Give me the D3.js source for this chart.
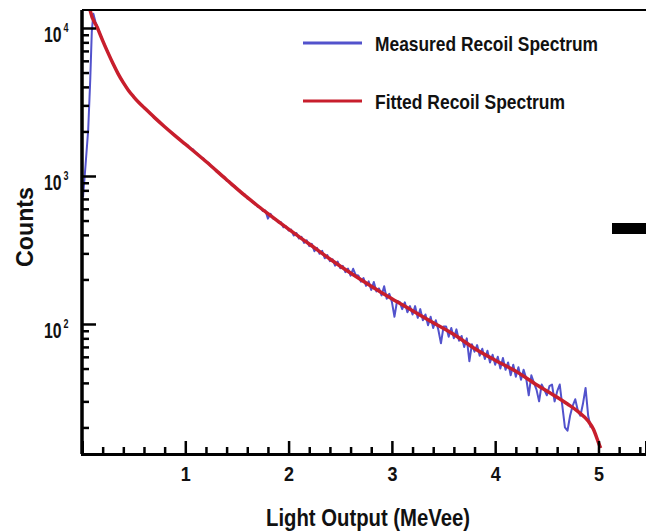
<!DOCTYPE html>
<html>
<head>
<meta charset="utf-8">
<script src="https://cdn.jsdelivr.net/npm/d3@7"></script>
<style>
  html, body { margin: 0; padding: 0; background: #fff; }
  svg { display: block; }
  text { font-family: "Liberation Sans", Arial, sans-serif; font-weight: bold; fill: #111; }
</style>
</head>
<body>
<svg id="chart" width="646" height="532"></svg>
<script>
// ---- data ----
const seriesNames = ["Measured Recoil Spectrum", "Fitted Recoil Spectrum"];
const xTickLabels = [1, 2, 3, 4, 5];
const yTickBase = ["10", "10", "10"];
const yTickExp = ["2", "3", "4"];
const yTickValues = [100, 1000, 10000];

// fitted spectrum (MeVee, counts)
const fitX = [0.06, 0.075, 0.15, 0.20, 0.25, 0.30, 0.35, 0.40, 0.45, 0.50, 0.55, 0.60, 0.70, 0.80, 0.90, 1.00,
  1.20, 1.40, 1.60, 1.80, 2.00, 2.20, 2.40, 2.60, 2.80, 3.00, 3.20, 3.40, 3.60, 3.80,
  4.00, 4.20, 4.40, 4.60, 4.70, 4.80, 4.90, 4.95, 5.00, 5.02];
const fitY = [16600, 13490, 10000, 8220, 6840, 5750, 4900, 4270, 3785, 3430, 3140, 2904, 2489, 2153, 1875, 1641,
  1253, 944, 716, 556, 437, 347, 275, 221, 180, 148, 123, 102, 85, 68.4,
  56.9, 47.9, 38.9, 32.0, 28.8, 25.7, 22.1, 19.5, 15.8, 14.5];

// measured spectrum (MeVee, counts)
const measX = [0.010, 0.035, 0.060, 0.080, 0.095, 0.110, 0.130, 0.155, 0.20, 0.25, 0.30, 0.35, 0.40, 0.45,
  0.50, 0.55, 0.60, 0.65, 0.70, 0.75, 0.80, 0.85, 0.90, 0.95, 1.000,
  1.025, 1.050, 1.075, 1.100, 1.125, 1.150, 1.175, 1.200, 1.225, 1.250, 1.275, 1.300,
  1.325, 1.350, 1.375, 1.400, 1.425, 1.450, 1.475, 1.500, 1.525, 1.550, 1.575, 1.600,
  1.625, 1.650, 1.675, 1.700, 1.725, 1.750, 1.775, 1.800, 1.825, 1.850, 1.875, 1.900,
  1.925, 1.950, 1.975, 2.000, 2.025, 2.050, 2.075, 2.100, 2.125, 2.150, 2.175, 2.200,
  2.225, 2.250, 2.275, 2.300, 2.325, 2.350, 2.375, 2.400, 2.425, 2.450, 2.475, 2.500,
  2.525, 2.550, 2.575, 2.600, 2.625, 2.650, 2.675, 2.700, 2.725, 2.750, 2.775, 2.800,
  2.825, 2.850, 2.875, 2.900, 2.925, 2.950, 2.975, 3.000, 3.025, 3.050, 3.075, 3.100,
  3.125, 3.150, 3.175, 3.200, 3.225, 3.250, 3.275, 3.300, 3.325, 3.350, 3.375, 3.400,
  3.425, 3.450, 3.475, 3.500, 3.525, 3.550, 3.575, 3.600, 3.625, 3.650, 3.675, 3.700,
  3.725, 3.750, 3.775, 3.800, 3.825, 3.850, 3.875, 3.900, 3.925, 3.950, 3.975, 4.000,
  4.025, 4.050, 4.075, 4.100, 4.125, 4.150, 4.175, 4.200, 4.225, 4.250, 4.275, 4.300,
  4.325, 4.350, 4.375, 4.400, 4.425, 4.450, 4.475, 4.500, 4.525, 4.550, 4.575, 4.600,
  4.625, 4.650, 4.675, 4.700, 4.725, 4.750, 4.775, 4.800, 4.825, 4.850, 4.875, 4.900, 4.925];
const measY = [720, 1200, 2050, 4500, 9500, 12500, 11000, 9900, 8250, 6880, 5720, 4920, 4250, 3800,
  3420, 3150, 2890, 2700, 2480, 2330, 2150, 2020, 1870, 1760, 1640,
  1610, 1535, 1510, 1440, 1400, 1335, 1315, 1250, 1225, 1160, 1140, 1075,
  1060, 1005, 990, 930, 925, 865, 860, 815, 800, 755, 752, 705,
  700, 665, 660, 620, 618, 580, 585, 515, 555, 515, 512, 485,
  488, 450, 458, 428, 434, 396, 412, 378, 388, 353, 368, 336,
  348, 310, 327, 298, 312, 278, 292, 266, 274, 248, 264, 238,
  247, 224, 237, 212, 236, 214, 213, 193, 204, 181, 194, 170,
  192, 166, 174, 156, 180, 148, 160, 141, 112, 143, 141, 126,
  140, 120, 132, 116, 132, 110, 126, 106, 116, 98, 112, 94,
  106, 91, 74, 96, 96, 82, 94, 80, 92, 77, 83, 70,
  80, 56, 73, 65, 72, 61, 68, 58, 66, 55, 62, 53,
  60, 50, 59, 49, 55, 45, 53, 44, 51, 42, 49, 43,
  33, 45, 40, 36, 30, 39, 36, 33, 38, 39, 30, 35,
  39, 28, 20, 19, 24, 28, 31, 26, 24, 29, 37, 24, 20];

// ---- layout ----
const svg = d3.select("#chart");
const mLeft = 82, mRight = 646, mTop = 10, mBottom = 454;

const x = d3.scaleLinear().domain([0, 5.46]).range([mLeft, mRight]);
const y = d3.scaleLog().domain([13.23, 13230]).range([mBottom, mTop]);

// clip
svg.append("clipPath").attr("id", "plotclip")
  .append("rect").attr("x", mLeft).attr("y", mTop).attr("width", mRight - mLeft).attr("height", mBottom - mTop);

const plot = svg.append("g").attr("clip-path", "url(#plotclip)");

const measData = measX.map((v, i) => [v, measY[i]]);
const fitData = fitX.map((v, i) => [v, fitY[i]]);

plot.append("path").datum(measData)
  .attr("d", d3.line().x(d => x(d[0])).y(d => y(d[1])))
  .attr("fill", "none").attr("stroke", "#5252cc").attr("stroke-width", 2).attr("stroke-linejoin", "round");

plot.append("path").datum(fitData)
  .attr("d", d3.line().x(d => x(d[0])).y(d => y(d[1])).curve(d3.curveMonotoneX))
  .attr("fill", "none").attr("stroke", "#c81e2c").attr("stroke-width", 3.5).attr("stroke-linejoin", "round");

// top border
svg.append("line").attr("x1", mLeft).attr("x2", mRight).attr("y1", mTop).attr("y2", mTop)
  .attr("stroke", "#000").attr("stroke-width", 2);

// x axis
const xMinor = d3.range(0.2, 5.45, 0.2).filter(v => Math.abs(v - Math.round(v)) > 0.01);
const gxMinor = svg.append("g").attr("transform", `translate(0,${mBottom})`)
  .call(d3.axisBottom(x).tickValues(xMinor).tickSize(-7).tickFormat(""));
const gx = svg.append("g").attr("transform", `translate(0,${mBottom})`)
  .call(d3.axisBottom(x).tickValues(xTickLabels).tickSize(-13).tickPadding(24).tickFormat(d3.format("d")));
[gxMinor, gx].forEach(g => {
  g.select(".domain").attr("stroke", "#000").attr("stroke-width", 3);
  g.selectAll(".tick line").attr("stroke", "#000").attr("stroke-width", 2.5);
});
gx.selectAll(".tick text").attr("font-size", 20).attr("fill", "#111")
  .attr("font-family", null).attr("dy", null).attr("y", 27)
  .attr("textLength", 10).attr("lengthAdjust", "spacingAndGlyphs");

// y axis
const yMinor = [];
[10, 100, 1000].forEach(d => { for (let k = 2; k <= 9; k++) if (k * d > 13.23) yMinor.push(k * d); });
const gyMinor = svg.append("g").attr("transform", `translate(${mLeft},0)`)
  .call(d3.axisLeft(y).tickValues(yMinor).tickSize(-7).tickFormat(""));
const gy = svg.append("g").attr("transform", `translate(${mLeft},0)`)
  .call(d3.axisLeft(y).tickValues(yTickValues).tickSize(-14).tickFormat(""));
[gyMinor, gy].forEach(g => {
  g.select(".domain").attr("stroke", "#000").attr("stroke-width", 3).attr("d", `M0,${mBottom}V${mTop}`);
  g.selectAll(".tick line").attr("stroke", "#000").attr("stroke-width", 2.5);
});
const ylab = svg.append("g");
yTickValues.forEach((v, i) => {
  ylab.append("text").attr("transform", `translate(44,${y(v) + 14}) scale(0.72,1)`)
    .attr("font-size", 22).text(yTickBase[i]);
  ylab.append("text").attr("transform", `translate(63.5,${y(v) + 4}) scale(0.75,1)`)
    .attr("font-size", 12).text(yTickExp[i]);
});

// axis titles
svg.append("text").attr("x", 368).attr("y", 526).attr("text-anchor", "middle")
  .attr("font-size", 24).attr("textLength", 204).attr("lengthAdjust", "spacingAndGlyphs")
  .text("Light Output (MeVee)");
svg.append("text").attr("transform", "translate(33,227) rotate(-90)").attr("text-anchor", "middle")
  .attr("font-size", 23).attr("textLength", 80).attr("lengthAdjust", "spacingAndGlyphs")
  .text("Counts");

// legend
const legColors = ["#5252cc", "#c81e2c"];
const legY = [43, 101];
const legLen = [223, 190];
seriesNames.forEach((name, i) => {
  svg.append("line").attr("x1", 303).attr("x2", 362).attr("y1", legY[i]).attr("y2", legY[i])
    .attr("stroke", legColors[i]).attr("stroke-width", 3);
  svg.append("text").attr("x", 375).attr("y", legY[i] + 8).attr("font-size", 21)
    .attr("textLength", legLen[i]).attr("lengthAdjust", "spacingAndGlyphs").text(name);
});

// black marker on right edge
svg.append("rect").attr("x", 612).attr("y", 223).attr("width", 34).attr("height", 11).attr("fill", "#000");
</script>
</body>
</html>
